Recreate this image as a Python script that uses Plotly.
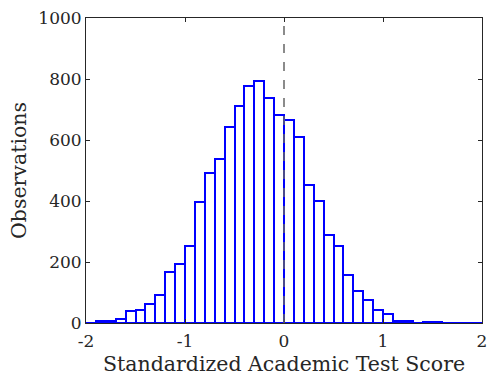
import numpy as np
import plotly.graph_objects as go

# Histogram bins (width 0.1 from -2 to 2) and observation counts
bin_width = 0.1
bin_starts = np.round(np.arange(-2.0, 2.0, bin_width), 1)
counts = [1, 5, 5, 13, 38, 43, 61, 93, 167, 193,
          254, 396, 492, 538, 644, 713, 777, 795, 738, 683,
          664, 610, 454, 399, 287, 254, 156, 104, 74, 43,
          31, 8, 5, 1, 2, 2, 1, 0.5, 0.5, 0.5]
x_ticks = [-2, -1, 0, 1, 2]
y_ticks = [0, 200, 400, 600, 800, 1000]

FONT = "DejaVu Serif"
fig = go.Figure()
fig.add_trace(go.Bar(
    x=bin_starts + bin_width / 2, y=counts, width=bin_width,
    marker=dict(color="white", line=dict(color="#0000ff", width=2)),
    showlegend=False,
))
fig.add_shape(type="line", x0=0, x1=0, y0=0, y1=1, xref="x", yref="paper",
              line=dict(color="#666666", width=1.5, dash="dash"), layer="above")

axis_common = dict(showline=True, linecolor="#262626", linewidth=1, mirror="ticks",
                   ticks="inside", ticklen=4, tickcolor="#262626", showgrid=False,
                   zeroline=False, automargin=False, ticklabeloverflow="allow",
                   tickfont=dict(family=FONT, size=17, color="#262626"))
fig.update_layout(
    width=487, height=381,
    margin=dict(l=86, r=5, t=18, b=58),
    paper_bgcolor="white", plot_bgcolor="white",
    bargap=0,
    xaxis=dict(range=[-2, 2], tickvals=x_ticks, ticktext=[str(v) for v in x_ticks],
               ticklabelstandoff=3,
               title=dict(text="Standardized Academic Test Score", standoff=6,
                          font=dict(family=FONT, size=20.5, color="#262626")),
               **axis_common),
    yaxis=dict(range=[0, 1000], tickvals=y_ticks,
               title=dict(text="Observations", standoff=6,
                          font=dict(family=FONT, size=20.5, color="#262626")),
               **axis_common),
)
fig.write_html("out.html", config={"displayModeBar": False},
               post_script="document.body.style.margin='0';")
